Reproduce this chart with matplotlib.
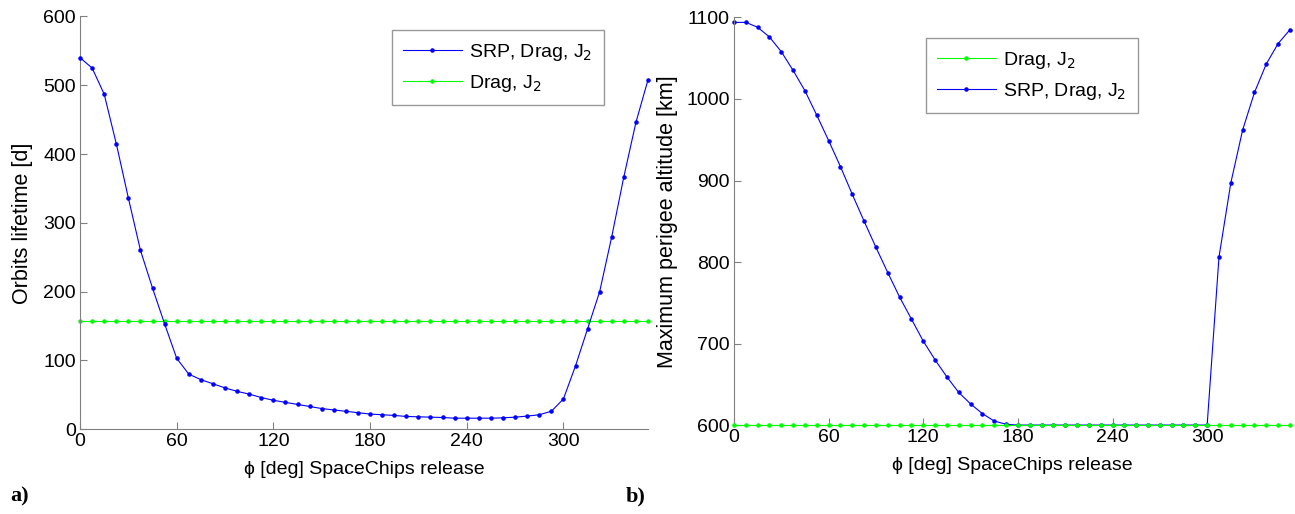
import matplotlib.pyplot as plt

plt.rcParams['font.family'] = ['Liberation Sans', 'DejaVu Sans']

# Freisetzungswinkel phi [deg], alle 7.5 Grad
phi = [i * 7.5 for i in range(48)]

# a) Lebensdauer der Orbits [d]
lebensdauer_srp = [540, 525, 487, 415, 336, 260, 205, 153, 103, 80, 72, 66,
                   60, 55, 51, 46, 42, 39, 36, 33, 30, 28, 26, 24,
                   22, 21, 20, 18.5, 18, 17.5, 17, 16, 16, 16, 16, 16.5,
                   17.5, 19, 21, 26, 44, 92, 146, 200, 280, 367, 446, 508]
lebensdauer_drag = [158] * len(phi)

# b) Maximale Perigaeumshoehe [km]
perigaeum_srp = [1094, 1094, 1088, 1076, 1058, 1035, 1010, 980, 949, 917, 883, 850,
                 818, 787, 757, 730, 703, 680, 659, 640, 626, 614, 605, 601,
                 600, 600, 600, 600, 600, 600, 600, 600, 600, 600, 600, 600,
                 600, 600, 600, 600, 600, 806, 897, 962, 1008, 1043, 1068, 1085]
perigaeum_drag = [600] * len(phi)

blau = '#0000ff'
gruen = '#00ff00'
grau = '#808080'

fig = plt.figure(figsize=(12.95, 5.14), dpi=100)
ax1 = fig.add_axes([0.0618, 0.165, 0.4386, 0.803])
ax2 = fig.add_axes([0.5668, 0.173, 0.4293, 0.793])


def achse_stylen(ax):
    ax.spines['top'].set_visible(False)
    ax.spines['right'].set_visible(False)
    ax.spines['left'].set_color(grau)
    ax.spines['bottom'].set_color(grau)
    ax.tick_params(direction='in', length=5, color=grau, labelsize=14, pad=3)
    ax.set_xticks([0, 60, 120, 180, 240, 300])
    ax.set_xlim(0, 352.5)
    ax.set_xlabel('ϕ [deg] SpaceChips release', fontsize=14, labelpad=8)


# Linke Grafik
ax1.plot(phi, lebensdauer_srp, color=blau, marker='.', markersize=4.5,
         linewidth=0.8, label='SRP, Drag, J$_2$', clip_on=False, zorder=3)
ax1.plot(phi, lebensdauer_drag, color=gruen, marker='.', markersize=4.5,
         linewidth=0.8, label='Drag, J$_2$', clip_on=False, zorder=2)
ax1.set_ylim(0, 600)
ax1.set_yticks(range(0, 601, 100))
ax1.set_ylabel('Orbits lifetime [d]', fontsize=15.5, labelpad=7)
achse_stylen(ax1)
leg1 = ax1.legend(loc='upper right', bbox_to_anchor=(0.94, 0.99), fontsize=14,
                  fancybox=False, edgecolor=grau, handlelength=3,
                  handletextpad=0.4, borderpad=0.6, labelspacing=0.5)
leg1.get_frame().set_linewidth(1.0)

# Rechte Grafik
ax2.plot(phi, perigaeum_drag, color=gruen, marker='.', markersize=4.5,
         linewidth=0.8, label='Drag, J$_2$', clip_on=False, zorder=3)
ax2.plot(phi, perigaeum_srp, color=blau, marker='.', markersize=4.5,
         linewidth=0.8, label='SRP, Drag, J$_2$', clip_on=False, zorder=2)
ax2.set_ylim(600, 1100)
ax2.set_yticks(range(600, 1101, 100))
ax2.set_ylabel('Maximum perigee altitude [km]', fontsize=15.5, labelpad=6)
achse_stylen(ax2)
leg2 = ax2.legend(loc='upper left', bbox_to_anchor=(0.327, 0.973), fontsize=14,
                  fancybox=False, edgecolor=grau, handlelength=3,
                  handletextpad=0.4, borderpad=0.6, labelspacing=0.5)
leg2.get_frame().set_linewidth(1.0)

# Beschriftung a) und b)
fig.text(0.008, 0.025, 'a)', fontsize=16, fontweight='bold', family='Liberation Serif')
fig.text(0.483, 0.025, 'b)', fontsize=16, fontweight='bold', family='Liberation Serif')

plt.savefig('out.png', dpi=100)
